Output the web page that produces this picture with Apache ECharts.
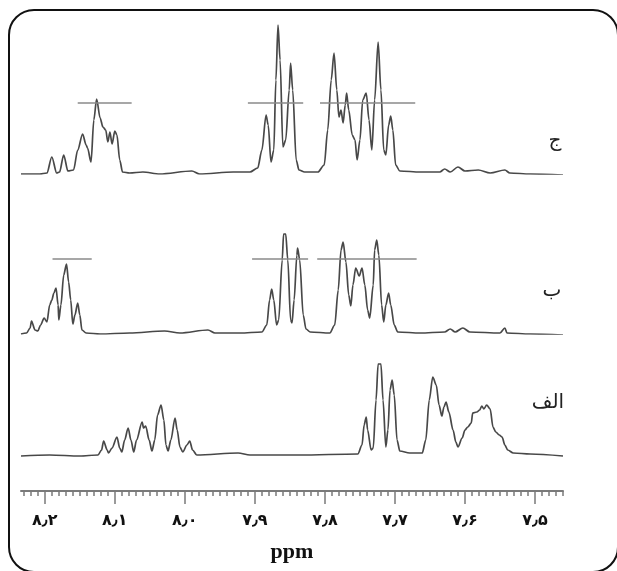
<!DOCTYPE html>
<html>
<head>
<meta charset="utf-8">
<script src="https://cdn.jsdelivr.net/npm/echarts@6/dist/echarts.min.js"></script>
<style>
  html, body { margin: 0; padding: 0; background: #fff; }
  #chart { width: 617px; height: 571px; }
</style>
</head>
<body>
<div id="chart"></div>
<script>
// ppm axis (reversed, high field on the left)
const ppmMin = 7.46
const ppmMax = 8.234
const majorTicks = [8.2, 8.1, 8.0, 7.9, 7.8, 7.7, 7.6, 7.5]
const majorTickLabels = ['۸٫۲', '۸٫۱', '۸٫۰', '۷٫۹', '۷٫۸', '۷٫۷', '۷٫۶', '۷٫۵']
const traceNames = ['ج', 'ب', 'الف']

// spectrum ج (top)  [ppm, intensity]
const specJ = [
  [8.234, 0], [8.207, 0], [8.197, 1], [8.190, 17], [8.183, 1], [8.179, 2], [8.173, 19], [8.167, 3],
  [8.159, 4], [8.153, 24], [8.146, 40], [8.141, 29], [8.139, 26], [8.134, 12], [8.130, 54], [8.126, 75],
  [8.121, 56], [8.117, 47], [8.113, 44], [8.110, 32], [8.107, 42], [8.104, 30], [8.100, 43], [8.097, 39],
  [8.093, 14], [8.089, 2], [8.079, 1], [8.060, 2], [8.036, 0], [7.990, 3], [7.979, 0], [7.931, 2],
  [7.907, 2], [7.896, 6], [7.890, 24], [7.884, 59], [7.881, 49], [7.877, 12], [7.873, 24], [7.870, 94],
  [7.867, 149], [7.864, 114], [7.860, 27], [7.856, 34], [7.851, 84], [7.849, 111], [7.846, 84], [7.841, 14],
  [7.837, 4], [7.829, 2], [7.810, 2], [7.801, 9], [7.796, 44], [7.791, 94], [7.787, 121], [7.783, 84],
  [7.780, 57], [7.777, 64], [7.774, 51], [7.771, 69], [7.769, 81], [7.766, 64], [7.761, 39], [7.757, 34],
  [7.754, 14], [7.750, 34], [7.746, 74], [7.741, 81], [7.737, 54], [7.733, 24], [7.729, 74], [7.724, 132],
  [7.720, 84], [7.716, 24], [7.713, 19], [7.709, 49], [7.706, 58], [7.703, 44], [7.699, 9], [7.693, 3],
  [7.664, 2], [7.636, 2], [7.629, 5], [7.621, 2], [7.610, 7], [7.600, 3], [7.581, 4], [7.564, 1],
  [7.543, 4], [7.536, 1], [7.507, 0], [7.460, -1]
]

// spectrum ب (middle)
const specB = [
  [8.234, 0], [8.226, 1], [8.221, 6], [8.219, 13], [8.214, 4], [8.210, 3], [8.206, 9], [8.201, 16],
  [8.197, 12], [8.193, 29], [8.190, 34], [8.187, 41], [8.184, 46], [8.181, 29], [8.180, 14], [8.177, 29],
  [8.173, 59], [8.169, 70], [8.166, 52], [8.163, 34], [8.160, 10], [8.157, 19], [8.153, 31], [8.150, 19],
  [8.147, 4], [8.141, 1], [8.121, 0], [8.079, 1], [8.029, 3], [8.007, 1], [7.967, 4], [7.957, 1],
  [7.921, 1], [7.890, 2], [7.883, 9], [7.879, 34], [7.876, 45], [7.873, 34], [7.869, 9], [7.866, 14],
  [7.861, 74], [7.859, 100], [7.856, 100], [7.853, 74], [7.849, 14], [7.847, 11], [7.844, 34], [7.840, 79],
  [7.839, 86], [7.836, 74], [7.831, 19], [7.827, 5], [7.821, 2], [7.793, 1], [7.786, 9], [7.781, 44],
  [7.777, 84], [7.774, 92], [7.770, 72], [7.766, 39], [7.763, 28], [7.760, 49], [7.756, 66], [7.751, 58],
  [7.747, 66], [7.743, 49], [7.739, 24], [7.736, 16], [7.731, 49], [7.729, 84], [7.726, 94], [7.723, 79],
  [7.719, 29], [7.716, 12], [7.713, 29], [7.709, 41], [7.706, 29], [7.701, 9], [7.696, 2], [7.664, 1],
  [7.629, 2], [7.621, 5], [7.614, 2], [7.603, 6], [7.593, 2], [7.550, 1], [7.543, 6], [7.540, 1],
  [7.507, 0], [7.460, -1]
]

// spectrum الف (bottom)
const specAlef = [
  [8.234, -1], [8.193, 0], [8.150, -1], [8.124, 0], [8.119, 5], [8.116, 14], [8.111, 5], [8.109, 2],
  [8.104, 7], [8.097, 18], [8.093, 7], [8.090, 3], [8.086, 15], [8.081, 27], [8.077, 15], [8.073, 3],
  [8.069, 15], [8.061, 33], [8.059, 27], [8.056, 29], [8.051, 15], [8.047, 4], [8.043, 15], [8.039, 40],
  [8.034, 50], [8.030, 35], [8.027, 10], [8.024, 4], [8.020, 15], [8.014, 37], [8.011, 25], [8.007, 8],
  [8.003, 3], [7.997, 10], [7.993, 14], [7.989, 5], [7.983, 0], [7.924, 2], [7.907, 0], [7.836, 0],
  [7.753, 1], [7.747, 10], [7.744, 30], [7.741, 38], [7.739, 25], [7.734, 5], [7.731, 7], [7.727, 55],
  [7.724, 91], [7.720, 91], [7.717, 55], [7.713, 8], [7.710, 25], [7.707, 65], [7.704, 75], [7.701, 60],
  [7.697, 15], [7.693, 4], [7.679, 2], [7.661, 2], [7.656, 15], [7.651, 55], [7.646, 78], [7.641, 70],
  [7.637, 50], [7.633, 39], [7.630, 48], [7.627, 53], [7.623, 43], [7.617, 25], [7.613, 13], [7.610, 8],
  [7.604, 17], [7.600, 25], [7.596, 28], [7.591, 32], [7.589, 42], [7.583, 43], [7.579, 45], [7.576, 49],
  [7.573, 46], [7.569, 50], [7.564, 46], [7.560, 28], [7.556, 23], [7.551, 20], [7.547, 18], [7.543, 10],
  [7.539, 5], [7.531, 2], [7.507, 1], [7.460, -1]
]

// integral bars  [from ppm, to ppm]
const integralsJ = [[8.153, 8.076], [7.910, 7.831], [7.807, 7.671]]
const integralLevelJ = 71
const integralsB = [[8.189, 8.133], [7.904, 7.824], [7.811, 7.669]]
const integralLevelB = 75

const minorTicks = []
for (let i = 0; i <= 77; i++) minorTicks.push(+(ppmMin + i * 0.01).toFixed(2))

const lineColor = '#484848'
const axisColor = '#7a7a7a'

function hiddenX(grid) {
  return { type: 'value', gridIndex: grid, min: ppmMin, max: ppmMax, inverse: true, show: false }
}
function hiddenY(grid, min) {
  return { type: 'value', gridIndex: grid, min: min, max: 160, show: false }
}
function integralMarks(list, level) {
  return {
    symbol: 'none',
    silent: true,
    label: { show: false },
    lineStyle: { color: '#8a8a8a', width: 1.5, type: 'solid' },
    data: list.map(r => [{ coord: [r[0], level] }, { coord: [r[1], level] }])
  }
}
function spectrum(name, idx, data, marks) {
  return {
    name: name,
    type: 'line',
    xAxisIndex: idx,
    yAxisIndex: idx,
    data: data,
    showSymbol: false,
    smooth: 0.3,
    smoothMonotone: 'x',
    lineStyle: { color: lineColor, width: 1.7 },
    markLine: marks
  }
}

const chart = echarts.init(document.getElementById('chart'))
chart.setOption({
  animation: false,
  grid: [
    { left: 21, right: 54, top: 14, height: 160 },
    { left: 21, right: 54, top: 174, height: 160 },
    { left: 21, right: 54, top: 295, height: 196 }
  ],
  xAxis: [
    hiddenX(0),
    hiddenX(1),
    {
      type: 'value', gridIndex: 2, min: ppmMin, max: ppmMax, inverse: true, position: 'bottom',
      splitLine: { show: false },
      axisLine: { onZero: false, lineStyle: { color: axisColor, width: 2 } },
      axisTick: { customValues: minorTicks, length: 5, lineStyle: { color: axisColor, width: 1.5 } },
      axisLabel: { show: false }
    },
    {
      type: 'value', gridIndex: 2, min: ppmMin, max: ppmMax, inverse: true, position: 'bottom',
      splitLine: { show: false },
      axisLine: { show: false, onZero: false },
      axisTick: { customValues: majorTicks, length: 13, lineStyle: { color: axisColor, width: 1.5 } },
      axisLabel: {
        customValues: majorTicks,
        margin: 22,
        color: '#111',
        fontFamily: 'DejaVu Sans',
        fontWeight: 'bold',
        fontSize: 16,
        formatter: v => {
          const i = majorTicks.findIndex(t => Math.abs(t - v) < 1e-6)
          return i < 0 ? '' : majorTickLabels[i]
        }
      },
      name: 'ppm',
      nameLocation: 'middle',
      nameGap: 50,
      nameTextStyle: { fontFamily: 'Liberation Serif', fontWeight: 'bold', fontSize: 22, color: '#111' }
    }
  ],
  yAxis: [hiddenY(0, 0), hiddenY(1, 0), hiddenY(2, -36)],
  series: [
    spectrum(traceNames[0], 0, specJ, integralMarks(integralsJ, integralLevelJ)),
    spectrum(traceNames[1], 1, specB, integralMarks(integralsB, integralLevelB)),
    spectrum(traceNames[2], 2, specAlef, undefined)
  ],
  graphic: [
    {
      type: 'rect', silent: true,
      shape: { x: 9, y: 10, width: 609, height: 562, r: 25 },
      style: { fill: 'none', stroke: '#111', lineWidth: 2 }
    },
    { type: 'text', x: 555, y: 141, style: { text: traceNames[0], fontFamily: 'DejaVu Sans', fontSize: 20, fill: '#222', align: 'center', verticalAlign: 'middle' } },
    { type: 'text', x: 552, y: 291, style: { text: traceNames[1], fontFamily: 'DejaVu Sans', fontSize: 20, fill: '#222', align: 'center', verticalAlign: 'middle' } },
    { type: 'text', x: 548, y: 403, style: { text: traceNames[2], fontFamily: 'DejaVu Sans', fontSize: 20, fill: '#222', align: 'center', verticalAlign: 'middle' } }
  ]
})
</script>
</body>
</html>
